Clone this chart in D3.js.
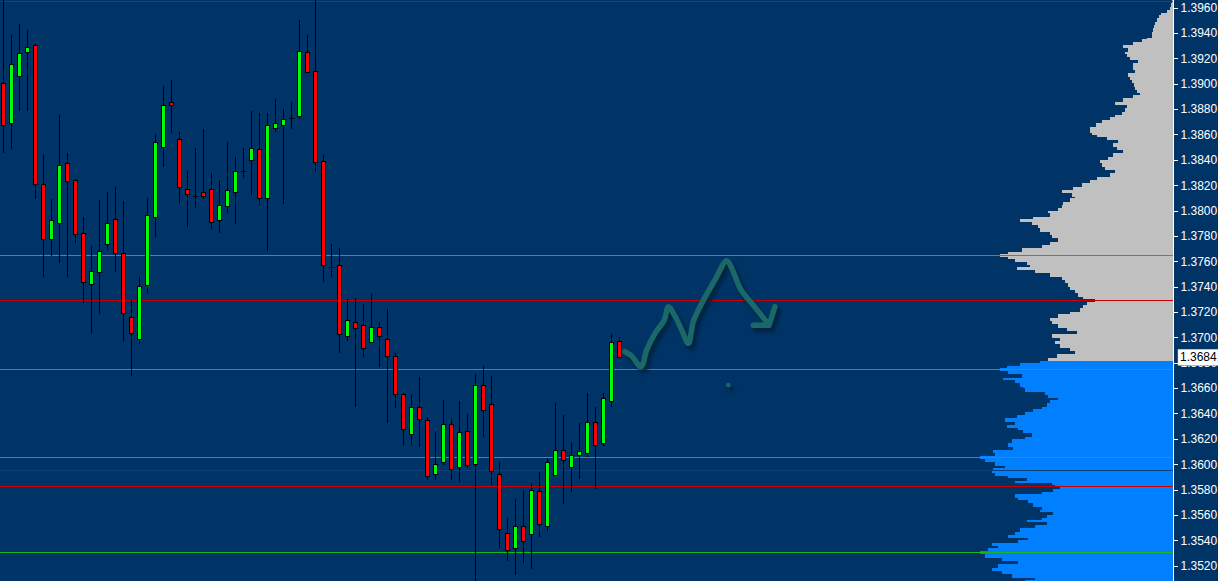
<!DOCTYPE html>
<html><head><meta charset="utf-8">
<script src="https://cdn.jsdelivr.net/npm/d3@7"></script>
<style>
html,body{margin:0;padding:0;background:#003366;overflow:hidden}
svg{display:block}
</style></head>
<body>
<svg id="chart" width="1218" height="581"></svg>
<script>
// ---------- DATA ----------
const opens  = [1.39009,1.38688,1.39064,1.39248,1.39303,1.38207,1.37774,1.37900,1.38373,1.38239,
1.37821,1.37419,1.37513,1.37734,1.37931,1.37663,1.37158,1.36985,1.37411,1.37947,
1.38504,1.38854,1.38562,1.38168,1.38117,1.38144,1.38168,1.37923,1.38034,1.38144,
1.38310,1.38397,1.38483,1.38097,1.38649,1.38673,1.38728,1.38744,1.39248,1.39098,
1.38389,1.37553,1.37569,1.37009,1.37119,1.37095,1.36961,1.37080,1.36985,1.36851,
1.36551,1.36236,1.36449,1.36346,1.35920,1.36015,1.36315,1.35976,1.36259,1.35999,
1.36622,1.36472,1.35920,1.35455,1.35337,1.35510,1.35447,1.35786,1.35510,1.35912,
1.36110,1.35976,1.36070,1.36086,1.36330,1.36165,1.36496,1.36969];
const highs  = [1.39700,1.39385,1.39471,1.39424,1.39319,1.38446,1.38091,1.38754,1.38454,1.38249,
1.37949,1.37721,1.38084,1.38147,1.38186,1.38076,1.37297,1.37476,1.38099,1.38604,
1.38982,1.39030,1.38620,1.38312,1.38494,1.38643,1.38296,1.38241,1.38541,1.38423,
1.38494,1.38785,1.38772,1.38770,1.38880,1.38801,1.38856,1.39503,1.39385,1.39700,
1.38436,1.37737,1.37705,1.37300,1.37308,1.37261,1.37342,1.37121,1.37222,1.36875,
1.36559,1.36543,1.36688,1.36370,1.36259,1.36504,1.36364,1.36496,1.36396,1.36711,
1.36774,1.36696,1.36015,1.35573,1.35723,1.35794,1.35849,1.35936,1.36047,1.36480,
1.36386,1.36173,1.36323,1.36559,1.36449,1.36559,1.37024,1.37001];
const lows   = [1.38457,1.38488,1.38788,1.38788,1.38089,1.37479,1.37642,1.37589,1.37479,1.37747,
1.37274,1.37029,1.37182,1.37687,1.37518,1.36966,1.36698,1.36950,1.37352,1.37786,
1.38346,1.38614,1.38062,1.37873,1.38023,1.38094,1.37857,1.37826,1.37979,1.37897,
1.38255,1.38125,1.38046,1.37684,1.38622,1.38054,1.38646,1.38720,1.39085,1.38315,
1.37439,1.37479,1.36879,1.36974,1.36453,1.36848,1.36953,1.36769,1.36327,1.36446,
1.36146,1.36154,1.36133,1.35873,1.35873,1.35991,1.35873,1.35857,1.35968,1.35050,
1.36217,1.35834,1.35342,1.35234,1.35129,1.35219,1.35176,1.35424,1.35471,1.35905,
1.35684,1.35778,1.35881,1.36054,1.35802,1.36141,1.36449,1.36843];
const closes = [1.38673,1.39154,1.39240,1.39288,1.38210,1.37774,1.37923,1.38357,1.38231,1.37813,
1.37435,1.37521,1.37679,1.37900,1.37663,1.37190,1.37032,1.37403,1.37963,1.38538,
1.38830,1.38830,1.38184,1.38129,1.38117,1.38113,1.37908,1.38042,1.38160,1.38310,
1.38310,1.38491,1.38097,1.38673,1.38688,1.38720,1.38728,1.39256,1.39091,1.38381,
1.37569,1.37553,1.37024,1.37135,1.37072,1.36914,1.37080,1.37009,1.36851,1.36551,
1.36275,1.36449,1.36354,1.35905,1.35999,1.36315,1.35960,1.36252,1.35991,1.36622,
1.36425,1.35944,1.35487,1.35321,1.35510,1.35392,1.35794,1.35526,1.36015,1.36110,
1.36031,1.36070,1.36102,1.36330,1.36149,1.36520,1.36961,1.36843];

const greenLevels = [1.37647, 1.36749, 1.36054, 1.35305];
const redLevels   = [1.39653, 1.37293, 1.35826];
const navyLevels  = [1.35952];

const tickLabels = ["1.3960","1.3940","1.3920","1.3900","1.3880","1.3860","1.3840","1.3820","1.3800",
"1.3780","1.3760","1.3740","1.3720","1.3700","1.3680","1.3660","1.3640","1.3620","1.3600","1.3580",
"1.3560","1.3540","1.3520"];

const profilePrices = [1.39661,1.39635,1.39608,1.39582,1.39561,1.39542,1.39516,1.39490,1.39464,1.39438,
1.39411,1.39385,1.39359,1.39351,1.39332,1.39306,1.39280,1.39253,1.39235,1.39214,
1.39188,1.39161,1.39135,1.39109,1.39083,1.39056,1.39030,1.39004,1.38977,1.38951,
1.38930,1.38912,1.38886,1.38859,1.38833,1.38807,1.38780,1.38754,1.38736,1.38714,
1.38688,1.38661,1.38635,1.38614,1.38596,1.38578,1.38557,1.38531,1.38504,1.38478,
1.38452,1.38425,1.38399,1.38373,1.38346,1.38320,1.38294,1.38267,1.38241,1.38215,
1.38188,1.38162,1.38136,1.38109,1.38097,1.38070,1.38044,1.38018,1.37999,1.37979,
1.37952,1.37934,1.37913,1.37887,1.37860,1.37834,1.37808,1.37781,1.37755,1.37729,
1.37703,1.37676,1.37655,1.37636,1.37618,1.37597,1.37571,1.37553,1.37532,1.37506,
1.37479,1.37453,1.37427,1.37400,1.37374,1.37348,1.37321,1.37301,1.37282,1.37256,
1.37229,1.37203,1.37182,1.37155,1.37129,1.37103,1.37076,1.37050,1.37024,1.36998,
1.36972,1.36946,1.36919,1.36893,1.36867,1.36840,1.36814,1.36796,1.36777,1.36756,
1.36735,1.36709,1.36682,1.36662,1.36638,1.36611,1.36599,1.36572,1.36546,1.36525,
1.36506,1.36480,1.36453,1.36435,1.36414,1.36388,1.36362,1.36335,1.36309,1.36288,
1.36270,1.36244,1.36217,1.36197,1.36165,1.36138,1.36112,1.36086,1.36067,1.36041,
1.36015,1.35988,1.35968,1.35946,1.35928,1.35909,1.35889,1.35867,1.35849,1.35836,
1.35820,1.35804,1.35783,1.35763,1.35736,1.35718,1.35692,1.35665,1.35639,1.35621,
1.35600,1.35578,1.35560,1.35542,1.35521,1.35495,1.35468,1.35442,1.35421,1.35403,
1.35376,1.35357,1.35337,1.35315,1.35289,1.35262,1.35236,1.35210,1.35183,1.35157,
1.35131,1.35105,1.35086];
const profileVolumes = [1,2,3,6,12,14,16,18,19,20,
21,21,26,31,40,50,45,48,46,43,
35,40,40,38,45,43,41,39,38,36,
33,40,50,58,46,48,51,58,63,71,
77,83,83,81,76,66,55,60,56,50,
60,65,73,71,68,58,63,76,83,91,
100,111,101,98,103,110,111,115,125,123,
140,153,141,135,133,123,121,115,123,131,
151,165,173,165,158,146,143,156,138,123,
111,108,105,103,98,95,90,78,86,90,
93,103,115,123,121,115,106,96,121,113,
118,113,103,98,116,125,133,153,166,173,
165,151,170,158,153,150,148,128,125,115,
123,126,131,140,148,156,168,158,166,155,
150,141,148,161,165,160,180,178,193,188,
178,168,180,181,178,165,146,158,121,118,
113,120,131,158,155,145,140,131,133,120,
126,131,146,126,138,153,158,165,145,155,
181,175,185,193,188,171,155,175,181,171,
161,138,148];
const splitPrice = 1.36825;

// hand-drawn annotation (bar index, price)
const sketchIdx   = [77.7,78.55,79.71,80.43,81.46,82.63,83.13,83.88,84.8,85.63,86.25,87.09,88.96,90.43,91.05,92.21,93.55,95.63];
const sketchPrice = [1.36887,1.36853,1.36769,1.36901,1.37032,1.37137,1.37242,1.37177,1.37058,1.36953,1.37124,1.37242,1.37453,1.37605,1.37545,1.37374,1.37269,1.37106];
const headIdx   = [93.75,95.71,96.46];
const headPrice = [1.37095,1.37095,1.37242];
const dotIdx = 90.63, dotPrice = 1.36625;

// ---------- DRAW ----------
const W = 1218, H = 581, axisX = 1173;
const svg = d3.select("#chart");
const y = d3.scaleLinear().domain([1.350787, 1.396607]).range([H, 0]);
const x = d3.scaleLinear().domain([0, 1]).range([3.3, 11.3]);
const v = d3.scaleLinear().domain([0, 200]).range([axisX, axisX - 200]);
const cy = p => Math.round(y(p)) + 0.5;

svg.append("rect").attr("width", W).attr("height", H).attr("fill", "#003366");

const defs = svg.append("defs");
defs.append("clipPath").attr("id","plot").append("rect").attr("width", axisX).attr("height", H);
const f = defs.append("filter").attr("id","blur").attr("x","-10%").attr("y","-10%").attr("width","120%").attr("height","120%");
f.append("feGaussianBlur").attr("stdDeviation", 1.6);

const plot = svg.append("g").attr("clip-path","url(#plot)");

// volume profile
const prof = profilePrices.map((p,i)=>({p, vol: profileVolumes[i], next: i+1<profilePrices.length ? profilePrices[i+1] : y.domain()[0]}));
plot.append("g").selectAll("rect").data(prof).join("rect")
  .attr("x", d => v(d.vol))
  .attr("y", d => y(d.p))
  .attr("width", d => axisX - v(d.vol))
  .attr("height", d => Math.max(0.5, y(d.next) - y(d.p)))
  .attr("fill", d => d.p >= splitPrice ? "#c0c0c0" : "#0080ff")
  .attr("shape-rendering","crispEdges");

// horizontal levels
const lv = plot.append("g").attr("shape-rendering","crispEdges");
lv.selectAll(".nv").data(navyLevels).join("line").attr("class","nv")
  .attr("x1",0).attr("x2",axisX).attr("y1",cy).attr("y2",cy).attr("stroke","#0a3f7a");
lv.selectAll(".gr").data(greenLevels).join("line").attr("class","gr")
  .attr("x1",0).attr("x2",axisX).attr("y1",cy).attr("y2",cy).attr("stroke","#1fb51f");
lv.selectAll(".rd").data(redLevels).join("line").attr("class","rd")
  .attr("x1",0).attr("x2",axisX).attr("y1",cy).attr("y2",cy).attr("stroke","#cc0000");

// candles
const candles = opens.map((o,i)=>({i, o, h: highs[i], l: lows[i], c: closes[i]}));
const cg = plot.append("g").attr("shape-rendering","crispEdges");
const cx = i => Math.round(x(i)) + 0.5;
cg.selectAll(".wick").data(candles).join("line").attr("class","wick")
  .attr("x1", d=>cx(d.i)).attr("x2", d=>cx(d.i))
  .attr("y1", d=>y(d.h)).attr("y2", d=>y(d.l))
  .attr("stroke","#000").attr("stroke-width",1);
cg.selectAll(".body").data(candles.filter(d=>Math.abs(y(d.o)-y(d.c))>=1.5)).join("rect").attr("class","body")
  .attr("x", d=>cx(d.i)-2.5+0.0).attr("width",5-1)
  .attr("y", d=>Math.round(y(Math.max(d.o,d.c)))+0.5)
  .attr("height", d=>Math.max(1, Math.round(y(Math.min(d.o,d.c))) - Math.round(y(Math.max(d.o,d.c)))))
  .attr("fill", d=>d.c>d.o ? "#00ff00" : "#ff0000")
  .attr("stroke","#000").attr("stroke-width",1);
cg.selectAll(".doji").data(candles.filter(d=>Math.abs(y(d.o)-y(d.c))<1.5)).join("line").attr("class","doji")
  .attr("x1", d=>cx(d.i)-2.5).attr("x2", d=>cx(d.i)+2.5)
  .attr("y1", d=>cy(d.c)).attr("y2", d=>cy(d.c))
  .attr("stroke","#000").attr("stroke-width",1);

// sketch annotation
const sk = sketchIdx.map((t,i)=>[x(t), y(sketchPrice[i])]);
const hd = headIdx.map((t,i)=>[x(t), y(headPrice[i])]);
const ln = d3.line().curve(d3.curveCatmullRom.alpha(0.5));
const lnH = d3.line();
const sg = plot.append("g");
const shadow = sg.append("g").attr("transform","translate(3,4)").attr("filter","url(#blur)").attr("opacity",0.7);
[[sk,ln],[hd,lnH]].forEach(([pts,g])=>{
  shadow.append("path").attr("d", g(pts)).attr("fill","none").attr("stroke","#001a33")
    .attr("stroke-width",6).attr("stroke-linecap","round").attr("stroke-linejoin","round");
});
shadow.append("circle").attr("cx", x(dotIdx)).attr("cy", y(dotPrice)).attr("r",2.5).attr("fill","#001a33");
[[sk,ln],[hd,lnH]].forEach(([pts,g])=>{
  sg.append("path").attr("d", g(pts)).attr("fill","none").attr("stroke","#1a6868")
    .attr("stroke-width",5.5).attr("stroke-linecap","round").attr("stroke-linejoin","round");
});
sg.append("circle").attr("cx", x(dotIdx)).attr("cy", y(dotPrice)).attr("r",2.3).attr("fill","#1a6868");

// axis
const ax = svg.append("g").attr("transform",`translate(${axisX+0.5},0)`)
  .call(d3.axisRight(y).tickValues(tickLabels.map(Number)).tickSize(4).tickSizeOuter(0)
    .tickPadding(3).tickFormat((d,i)=>tickLabels[i]));
ax.select(".domain").attr("stroke","#ffffff").attr("d", `M0,0V${H}`);
ax.selectAll(".tick line").attr("stroke","#ffffff").attr("shape-rendering","crispEdges");
ax.selectAll(".tick text").attr("fill","#ffffff").attr("font-family","'Liberation Sans', Arial, sans-serif")
  .attr("font-size",12);

// current price label
const last = closes[closes.length-1];
const lg = svg.append("g");
lg.append("rect").attr("x", axisX+5).attr("y", y(last)-8).attr("width", W-axisX-5).attr("height",16)
  .attr("fill","#ffffff").attr("stroke","#c8c8c8").attr("stroke-width",0.5);
lg.append("text").attr("x", axisX+7).attr("y", y(last)).attr("dy","0.35em")
  .attr("font-family","'Liberation Sans', Arial, sans-serif").attr("font-size",12)
  .attr("fill","#000000").text(d3.format(".4f")(last));
</script>
</body></html>
